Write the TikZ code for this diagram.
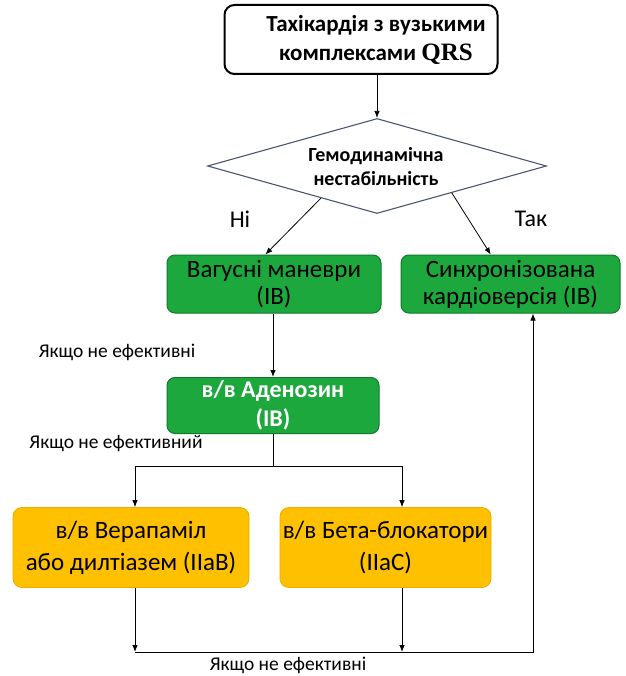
\documentclass[tikz,border=0pt]{standalone}
\usepackage{fontspec}
\setmainfont{Carlito}
\newfontfamily\qrsfont{Liberation Serif}
\usetikzlibrary{shapes.geometric,arrows.meta,calc}

\definecolor{boxgreen}{HTML}{1DA83D}
\definecolor{boxgreenedge}{HTML}{0F7A2A}
\definecolor{boxyellow}{HTML}{FFC000}
\definecolor{boxyellowedge}{HTML}{E9AC00}
\definecolor{diaedge}{HTML}{4A5670}

\tikzset{
  conn/.style={draw=black, line width=0.8pt, -{Latex[length=7pt,width=5.5pt]}},
  plain/.style={draw=black, line width=0.8pt},
  greenbox/.style={rectangle, rounded corners=8pt, fill=boxgreen, draw=boxgreenedge,
    line width=1pt, align=center, inner sep=0pt, font=\fontsize{25}{27}\selectfont},
  yellowbox/.style={rectangle, rounded corners=9pt, fill=boxyellow, draw=boxyellowedge,
    line width=0.8pt, align=center, inner sep=0pt, font=\fontsize{25}{32}\selectfont},
  note/.style={font=\fontsize{19.5}{22}\selectfont, inner sep=0pt},
  answer/.style={font=\fontsize{24}{26}\selectfont, inner sep=0pt},
}

\begin{document}
\begin{tikzpicture}[x=1pt,y=-1pt]
  \useasboundingbox (0,0) rectangle (625,676);

  % start box
  \node[rectangle, rounded corners=10pt, draw=black, line width=2pt,
        minimum width=273pt, minimum height=69pt, inner sep=0pt] (top) at (361,39.5) {};
  \node[align=center, font=\bfseries\fontsize{23}{29}\selectfont, inner sep=0pt] (toptxt) at (376,40)
    {Тахікардія з вузькими\\комплексами {\qrsfont\bfseries\fontsize{25}{29}\selectfont QRS}};

  % decision
  \node[diamond, aspect=3.57, minimum width=339pt, minimum height=95pt, inner sep=0pt,
        draw=diaedge, line width=1.1pt] (dia) at (377,166) {};
  \node[align=center, font=\bfseries\fontsize{20}{24}\selectfont, inner sep=0pt] (diatxt) at (376,167)
    {Гемодинамічна\\нестабільність};

  \node[answer] (no) at (240,219) {Ні};
  \node[answer] (yes) at (531,219) {Так};

  % treatment boxes
  \node[greenbox, minimum width=214pt, minimum height=58pt] (vag) at (274,284)
    {Вагусні маневри\\(IB)};
  \node[greenbox, minimum width=219pt, minimum height=58pt] (sync) at (510.5,284)
    {Синхронізована\\кардіоверсія (IB)};
  \node[greenbox, minimum width=212pt, minimum height=56pt, text=white,
        font=\bfseries\fontsize{24}{29}\selectfont] (aden) at (273,405.5)
    {в/в Аденозин\\(IB)};
  \node[yellowbox, minimum width=236pt, minimum height=80pt] (ver) at (131,547.5)
    {в/в Верапаміл\\або дилтіазем (IIaB)};
  \node[yellowbox, minimum width=211pt, minimum height=80pt] (beta) at (385.5,547.5)
    {в/в Бета-блокатори\\(IIaC)};

  % notes
  \node[note] (n1) at (117,352) {Якщо не ефективні};
  \node[note] (n2) at (116,444) {Якщо не ефективний};
  \node[note] (n3) at (288,665) {Якщо не ефективні};

  % routing points
  \coordinate (split) at (273,466);
  \coordinate (join) at (533,652);
  \coordinate (verx) at (135,0);
  \coordinate (betax) at (402,0);

  % connectors
  \draw[conn] (dia.north |- top.south) -- (dia.north);
  \draw[conn] ($(dia.west)!0.67!(dia.south)$) -- ($(vag.north west)!0.46!(vag.north east)$);
  \draw[conn] ($(dia.south)!0.44!(dia.east)$) -- ($(sync.north west)!0.41!(sync.north east)$);
  \draw[conn] (vag.south -| split) -- (aden.north -| split);
  \draw[plain] (aden.south -| split) -- (split);
  \draw[conn] (split) -| (verx |- ver.north);
  \draw[conn] (split) -| (betax |- beta.north);
  \draw[conn] (verx |- ver.south) -- (verx |- join);
  \draw[conn] (betax |- beta.south) -- (betax |- join);
  \draw[conn] (verx |- join) -- (join) -- (join |- sync.south);
\end{tikzpicture}
\end{document}
